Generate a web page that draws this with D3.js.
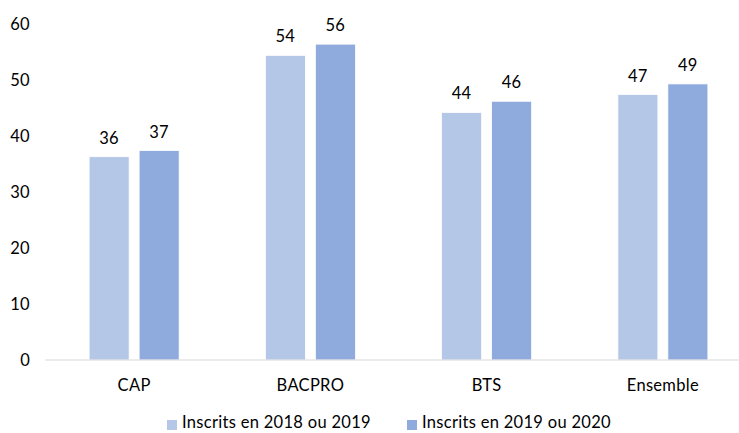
<!DOCTYPE html>
<html>
<head>
<meta charset="utf-8">
<script src="https://cdn.jsdelivr.net/npm/d3@7"></script>
<style>
  body { margin: 0; background: #fff; }
  text { font-family: Lato, "Open Sans", sans-serif; fill: #000; font-size: 16.5px; letter-spacing: 0.3px; }
</style>
</head>
<body>
<svg width="739" height="433"></svg>
<script>
var categories = ["CAP", "BACPRO", "BTS", "Ensemble"];
var seriesNames = ["Inscrits en 2018 ou 2019", "Inscrits en 2019 ou 2020"];
var values2018 = [36.3, 54.4, 44.2, 47.4];
var values2019 = [37.4, 56.4, 46.2, 49.3];
var yTicks = [0, 10, 20, 30, 40, 50, 60];
var colors = ["#B4C7E7", "#8FAADC"];

var svg = d3.select("svg");

var margin = {left: 46, right: -12, top: 24, bottom: 73};
var width = +svg.attr("width"),
    height = +svg.attr("height");

var y = d3.scaleLinear()
    .domain([0, 60])
    .range([height - margin.bottom, margin.top]);

var x0 = d3.scaleBand()
    .domain(categories)
    .range([margin.left, width - margin.right]);

var groupW = 90;
var x1 = d3.scaleBand()
    .domain([0, 1])
    .range([0, groupW])
    .paddingInner(0.2);

// y tick labels (no axis line, no gridlines)
svg.append("g")
    .selectAll("text")
    .data(yTicks)
    .enter().append("text")
    .attr("x", 30)
    .attr("y", function(d) { return y(d); })
    .attr("dy", "0.35em")
    .attr("text-anchor", "end")
    .text(function(d) { return d; });

var series = [values2018, values2019];

var groups = svg.append("g")
    .selectAll("g")
    .data(categories)
    .enter().append("g")
    .attr("transform", function(c) {
        return "translate(" + (x0(c) + (x0.bandwidth() - groupW) / 2) + ",0)";
    });

groups.selectAll("rect")
    .data(function(c, i) { return series.map(function(s, k) { return {k: k, v: s[i]}; }); })
    .enter().append("rect")
    .attr("x", function(d) { return x1(d.k); })
    .attr("width", x1.bandwidth())
    .attr("y", function(d) { return y(d.v); })
    .attr("height", function(d) { return y(0) - y(d.v); })
    .attr("fill", function(d) { return colors[d.k]; })
    .attr("stroke", "#fff")
    .attr("stroke-width", 0.75);

groups.selectAll("text.val")
    .data(function(c, i) { return series.map(function(s, k) { return {k: k, v: s[i]}; }); })
    .enter().append("text")
    .attr("class", "val")
    .attr("x", function(d) { return x1(d.k) + x1.bandwidth() / 2; })
    .attr("y", function(d) { return y(d.v) - 13; })
    .attr("text-anchor", "middle")
    .text(function(d) { return Math.round(d.v); });

// baseline
svg.append("line")
    .attr("x1", 45)
    .attr("x2", width)
    .attr("y1", y(0))
    .attr("y2", y(0))
    .attr("stroke", "#D9D9D9")
    .attr("stroke-width", 1);

// category labels
svg.append("g")
    .selectAll("text")
    .data(categories)
    .enter().append("text")
    .attr("x", function(c) { return x0(c) + x0.bandwidth() / 2; })
    .attr("y", y(0) + 31)
    .attr("text-anchor", "middle")
    .text(function(c) { return c; });

// legend
var legendX = [167, 407];
var legend = svg.append("g")
    .selectAll("g")
    .data(seriesNames)
    .enter().append("g")
    .attr("transform", function(d, i) { return "translate(" + legendX[i] + ",420)"; });

legend.append("rect")
    .attr("width", 10)
    .attr("height", 10)
    .attr("fill", function(d, i) { return colors[i]; });

legend.append("text")
    .attr("x", 15)
    .attr("y", 8)
    .text(function(d) { return d; });
</script>
</body>
</html>
